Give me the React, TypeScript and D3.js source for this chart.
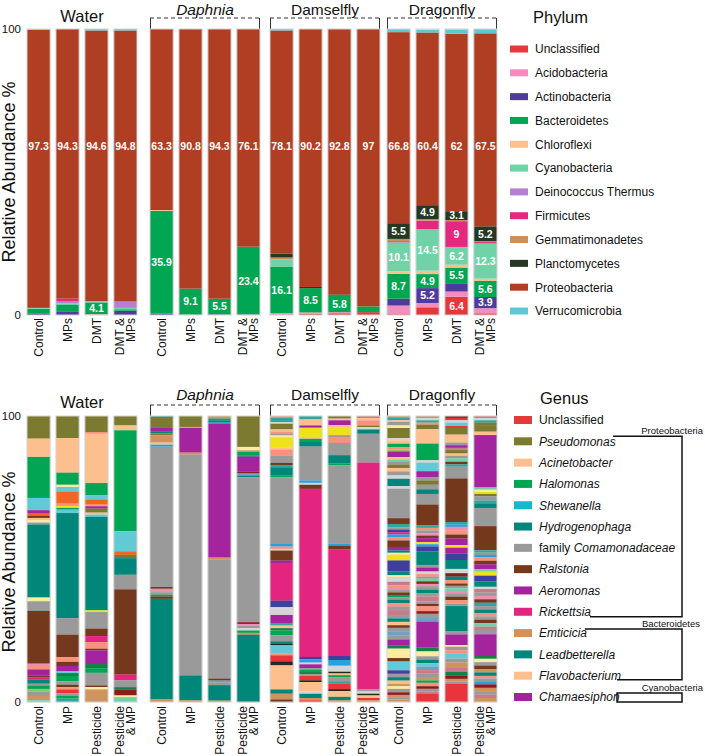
import React from "react";
import * as d3 from "d3";

// ---------- shared categories ----------
const groups = ["Water", "Daphnia", "Damselfly", "Dragonfly"];
const italicGroups = ["Daphnia"];
const topConditionLines = [["Control"], ["MPs"], ["DMT"], ["DMT &", "MPs"]];
const bottomConditionLines = [["Control"], ["MP"], ["Pesticide"], ["Pesticide", "& MP"]];

// ---------- Phylum panel (bars: Water C,MPs,DMT,DMT&MPs | Daphnia ... | Damselfly ... | Dragonfly ...) ----------
const phyla = [
  "Unclassified", "Acidobacteria", "Actinobacteria", "Bacteroidetes", "Chloroflexi", "Cyanobacteria",
  "Deinococcus Thermus", "Firmicutes", "Gemmatimonadetes", "Planctomycetes", "Proteobacteria", "Verrucomicrobia",
];
const phylumColors = [
  "#e8363b", "#f28dbd", "#4f3b9e", "#00a651", "#fdc08e", "#6fd3a7",
  "#b57fd3", "#e5287f", "#c8915e", "#243824", "#b03e22", "#5ccad6",
];
const unclassifiedP = [0, 0, 0.15, 0, 0, 0, 0, 0, 0, 0.4, 0.6, 1.0, 0.3, 2.7, 6.4, 0.6];
const acidobacteria = [0, 0, 0.15, 0, 0, 0, 0, 0, 0.7, 0.5, 0.4, 0, 3.0, 1.5, 1.8, 1.8];
const actinobacteria = [0.4, 1.3, 0, 1.5, 0.5, 0.1, 0.2, 0.2, 0, 0, 0, 0, 2.4, 5.2, 2.9, 3.9];
const bacteroidetes = [1.8, 2.4, 4.1, 0.5, 35.9, 9.1, 5.5, 23.4, 16.1, 8.5, 5.8, 2.0, 8.7, 4.9, 5.5, 5.6];
const chloroflexi = [0, 0, 0, 0, 0.3, 0, 0, 0, 0, 0, 0, 0, 0.9, 1.2, 1.0, 0.8];
const cyanobacteria = [0.3, 0.4, 0.5, 0.5, 0, 0, 0, 0, 2.6, 0, 0, 0, 10.1, 14.5, 6.2, 12.3];
const deinococcus = [0, 0.8, 0, 2.2, 0, 0, 0, 0, 0, 0, 0, 0, 0, 0, 0, 0];
const firmicutes = [0, 0.8, 0, 0, 0, 0, 0, 0, 0, 0, 0, 0, 0.4, 3.0, 9, 0.5];
const gemmatimonadetes = [0, 0, 0, 0, 0, 0, 0, 0, 0.7, 0, 0, 0, 0.8, 0.5, 0.4, 0.3];
const planctomycetes = [0, 0, 0, 0, 0, 0, 0, 0.3, 1.3, 0.4, 0.4, 0, 5.5, 4.9, 3.1, 5.2];
const proteobacteria = [97.3, 94.3, 94.6, 94.8, 63.3, 90.8, 94.3, 76.1, 78.1, 90.2, 92.8, 97, 66.8, 60.4, 62, 67.5];
const verrucomicrobia = [0.2, 0, 0.5, 0.5, 0, 0, 0, 0, 0.5, 0, 0, 0, 1.1, 1.0, 1.6, 1.5];
const phylumSeries = [
  unclassifiedP, acidobacteria, actinobacteria, bacteroidetes, chloroflexi, cyanobacteria,
  deinococcus, firmicutes, gemmatimonadetes, planctomycetes, proteobacteria, verrucomicrobia,
];
const labelThreshold = 3.05;
const proteoLabelAt = 59;

// ---------- Genus panel ----------
const genera = [
  "Unclassified", "Pseudomonas", "Acinetobacter", "Halomonas", "Shewanella", "Hydrogenophaga",
  "family Comamonadaceae", "Ralstonia", "Aeromonas", "Rickettsia", "Emticicia", "Leadbetterella",
  "Flavobacterium", "Chamaesiphon",
];
const genusLegendColors = [
  "#e5393a", "#7b7a2e", "#fdbf8e", "#00a651", "#14bccb", "#00877a",
  "#9a9a9a", "#74391d", "#a4229e", "#e4257f", "#d0935d", "#00877a",
  "#fdbf8e", "#a4229e",
];
const genusPalette: Record<string, string> = {
  UN: "#e8343a", PS: "#7c7a30", AC: "#fdbf8e", HA: "#00a651", LC: "#62cad7", HY: "#00877a",
  CO: "#9a9a9a", RA: "#74391d", AE: "#a5239e", RI: "#e4257f", EM: "#cf945e", LE: "#00877a",
  FL: "#fdbf8e", OR: "#f26522", SA: "#f7937c", YE: "#ede21b", NV: "#3e409c", LG: "#d5d5d5",
  LY: "#fbec9f", BL: "#24a2dc", DR: "#8b1c1c", DK: "#24291f", MI: "#6fd1a5", TL: "#2ea79f",
  GD: "#16804a", PK: "#f08db5", RO: "#c87b8c", BG: "#6f9fc7", LN: "#8cc863",
};
// segments listed from the top of each bar downward: [genus code, %]
type Seg = [string, number];
const waterControl: Seg[] = [["PS", 7.9], ["AC", 6.4], ["HA", 14.3], ["LC", 4.3], ["AE", 1.2], ["OR", 0.8], ["RA", 0.7], ["AC", 0.8], ["LY", 0.8], ["CO", 0.7], ["HY", 25.5], ["LY", 1.3], ["CO", 3.4], ["RA", 18.4], ["PK", 0.8], ["SA", 1.2], ["AE", 2.1], ["RA", 0.6], ["RI", 0.9], ["HY", 1.4], ["CO", 0.6], ["HA", 1.2], ["LN", 0.9], ["CO", 1.6], ["EM", 1.5], ["MI", 0.6]];
const waterMP: Seg[] = [["PS", 7.7], ["AC", 12.1], ["HA", 4.2], ["LY", 0.8], ["LC", 1.7], ["OR", 4.1], ["SA", 0.8], ["YE", 0.7], ["HA", 0.6], ["LC", 1.2], ["HY", 36.7], ["CO", 5.8], ["RA", 7.8], ["SA", 1.7], ["RA", 1.4], ["AE", 1.9], ["LC", 0.6], ["GD", 1.0], ["HA", 1.9], ["CO", 1.2], ["RA", 0.8], ["SA", 0.8], ["UN", 1.3], ["CO", 1.0], ["HA", 0.9], ["TL", 1.2]];
const waterPesticide: Seg[] = [["PS", 5.6], ["SA", 0.6], ["AC", 17.2], ["HA", 4.3], ["LC", 1.4], ["OR", 1.6], ["SA", 0.8], ["AE", 0.8], ["PS", 1.4], ["AC", 0.7], ["LC", 0.8], ["HY", 32.6], ["YE", 0.6], ["CO", 5.8], ["RA", 2.6], ["RI", 2.1], ["SA", 2.3], ["RA", 0.6], ["AE", 4.7], ["GD", 1.5], ["HA", 1.6], ["CO", 4.4], ["RA", 0.6], ["LY", 0.8], ["EM", 4.4]];
const waterPestMP: Seg[] = [["PS", 3.3], ["AC", 1.7], ["HA", 35.3], ["LC", 7.0], ["OR", 1.2], ["PS", 1.2], ["HY", 5.8], ["CO", 5.1], ["RA", 29.8], ["RI", 2.0], ["CO", 2.4], ["GD", 0.8], ["DR", 2.1], ["LY", 0.6], ["MI", 1.7]];
const daphniaControl: Seg[] = [["TL", 0.3], ["PS", 3.8], ["AE", 1.2], ["HY", 0.8], ["PS", 0.6], ["EM", 2.6], ["AC", 0.7], ["BL", 0.7], ["CO", 49.1], ["RA", 0.6], ["PK", 1.2], ["CO", 0.9], ["HA", 0.6], ["RA", 0.8], ["LE", 35.2], ["EM", 0.9]];
const daphniaMP: Seg[] = [["PS", 3.8], ["SA", 0.4], ["AE", 8.6], ["EM", 0.7], ["CO", 77.2], ["LE", 8.7], ["EM", 0.6]];
const daphniaPesticide: Seg[] = [["EM", 0.9], ["HA", 0.6], ["HY", 0.8], ["BL", 0.5], ["AE", 46.7], ["EM", 0.6], ["CO", 41.7], ["RA", 0.7], ["BG", 0.7], ["CO", 0.9], ["LE", 5.4], ["EM", 0.5]];
const daphniaPestMP: Seg[] = [["PS", 10.8], ["LY", 1.2], ["EM", 0.6], ["HA", 1.2], ["HY", 0.4], ["AE", 5.2], ["DR", 0.7], ["BG", 0.7], ["HY", 0.6], ["CO", 50.7], ["DR", 0.6], ["PK", 0.6], ["CO", 0.9], ["LG", 0.8], ["HA", 0.8], ["EM", 0.7], ["LE", 23.5]];
const damselControl: Seg[] = [["SA", 0.6], ["TL", 1.5], ["LG", 0.6], ["PS", 2.0], ["AC", 0.7], ["SA", 0.8], ["CO", 0.6], ["LY", 0.6], ["YE", 3.5], ["AC", 0.8], ["SA", 2.1], ["CO", 2.6], ["RA", 0.7], ["TL", 0.8], ["HY", 2.9], ["HA", 0.6], ["CO", 23.3], ["BL", 0.9], ["SA", 0.8], ["LG", 0.6], ["RA", 3.5], ["AE", 0.8], ["RI", 13.2], ["NV", 2.3], ["LG", 2.7], ["AE", 2.8], ["TL", 0.9], ["AC", 0.9], ["GD", 0.8], ["HA", 1.7], ["CO", 2.1], ["HY", 0.8], ["DK", 0.6], ["LC", 2.9], ["SA", 0.6], ["UN", 2.1], ["DK", 1.4], ["FL", 8.4], ["LE", 1.5], ["EM", 2.0], ["RA", 0.9]];
const damselMP: Seg[] = [["TL", 1.2], ["AC", 2.1], ["AE", 0.8], ["YE", 3.3], ["AC", 0.6], ["HA", 0.8], ["HY", 1.9], ["CO", 11.9], ["BL", 0.8], ["LG", 0.7], ["RA", 1.4], ["RI", 58.9], ["NV", 0.8], ["BL", 1.2], ["LG", 0.6], ["AE", 1.3], ["CO", 0.6], ["HA", 0.8], ["GD", 0.8], ["CO", 0.6], ["UN", 1.5], ["DK", 0.6], ["FL", 3.3], ["LG", 0.8], ["LE", 1.5], ["EM", 0.8], ["UN", 0.6]];
const damselPesticide: Seg[] = [["PS", 0.9], ["AC", 0.6], ["AE", 1.7], ["AC", 0.9], ["YE", 2.6], ["CO", 0.6], ["SA", 2.1], ["CO", 4.3], ["HY", 2.9], ["HA", 0.6], ["CO", 27.4], ["BL", 0.8], ["RA", 1.2], ["RI", 37.4], ["NV", 1.4], ["BL", 2.0], ["LG", 2.1], ["DK", 0.6], ["AC", 0.6], ["HA", 0.8], ["CO", 1.3], ["TL", 0.8], ["UN", 2.0], ["DK", 0.7], ["FL", 2.0], ["LE", 1.2], ["EM", 0.6]];
const damselPestMP: Seg[] = [["RO", 0.7], ["AC", 0.8], ["SA", 1.8], ["PS", 0.6], ["LG", 0.8], ["HY", 1.5], ["CO", 10.1], ["RI", 79.3], ["CO", 0.7], ["LG", 0.8], ["DK", 0.6], ["FL", 0.9], ["UN", 0.8], ["EM", 0.6]];
const dragonControl: Seg[] = [["EM", 0.7], ["TL", 0.8], ["AC", 0.6], ["CO", 1.2], ["LY", 0.9], ["PS", 3.5], ["LG", 0.8], ["AC", 1.2], ["HA", 1.2], ["SA", 0.8], ["LN", 0.7], ["AE", 2.0], ["AC", 0.8], ["MI", 0.9], ["CO", 0.9], ["PS", 1.2], ["AC", 1.2], ["CO", 1.4], ["LG", 1.2], ["HY", 2.6], ["LG", 0.9], ["CO", 10.3], ["RA", 2.0], ["TL", 1.2], ["CO", 0.8], ["NV", 0.9], ["RI", 0.8], ["BL", 0.9], ["SA", 1.2], ["RA", 2.3], ["AE", 1.2], ["HY", 0.8], ["LY", 0.7], ["YE", 2.0], ["NV", 3.8], ["HY", 1.4], ["LY", 0.6], ["LG", 1.7], ["RO", 1.2], ["SA", 0.9], ["PK", 0.8], ["CO", 0.8], ["RA", 0.9], ["HA", 0.9], ["CO", 0.8], ["HY", 1.2], ["SA", 1.2], ["CO", 1.2], ["RO", 1.7], ["CO", 1.2], ["HY", 1.2], ["AC", 1.2], ["RA", 0.9], ["CO", 1.2], ["BG", 1.4], ["CO", 1.5], ["AE", 2.0], ["GD", 1.2], ["LY", 3.3], ["RA", 1.2], ["LC", 3.1], ["NV", 1.2], ["CO", 1.2], ["HY", 1.2], ["AC", 1.2], ["EM", 0.8], ["LY", 0.9], ["CO", 1.2], ["DR", 0.9], ["EM", 0.8], ["CO", 0.8], ["EM", 0.9]];
const dragonMP: Seg[] = [["EM", 0.7], ["LG", 0.8], ["TL", 0.8], ["SA", 0.7], ["PS", 1.6], ["AC", 5.0], ["HA", 5.8], ["LG", 0.8], ["LC", 3.0], ["AE", 2.0], ["CO", 1.2], ["PS", 1.5], ["CO", 1.6], ["HY", 1.6], ["CO", 3.7], ["RA", 7.2], ["TL", 0.9], ["SA", 0.9], ["CO", 1.0], ["PK", 0.8], ["RA", 0.9], ["AE", 1.4], ["YE", 0.7], ["BL", 0.8], ["NV", 1.7], ["HY", 4.7], ["CO", 0.9], ["AE", 1.4], ["LG", 0.9], ["SA", 0.9], ["CO", 0.7], ["MI", 0.9], ["RA", 0.9], ["PK", 0.8], ["CO", 1.2], ["HY", 1.2], ["CO", 1.2], ["RO", 1.7], ["CO", 0.9], ["RA", 0.8], ["SA", 1.7], ["DR", 0.9], ["CO", 1.4], ["BG", 1.4], ["AE", 8.9], ["GD", 1.4], ["LY", 1.7], ["CO", 1.2], ["HY", 1.2], ["LC", 1.2], ["BG", 1.2], ["RO", 1.2], ["CO", 1.2], ["EM", 1.2], ["HA", 0.8], ["SA", 1.2], ["DR", 0.9], ["CO", 0.9], ["RO", 0.8], ["UN", 2.9]];
const dragonPesticide: Seg[] = [["RA", 0.7], ["UN", 0.8], ["LG", 0.8], ["LC", 1.2], ["UN", 0.7], ["PS", 2.3], ["AC", 2.8], ["CO", 0.9], ["AE", 0.9], ["RO", 0.8], ["PS", 1.2], ["AC", 0.8], ["CO", 0.9], ["MI", 1.2], ["RA", 0.9], ["TL", 0.8], ["CO", 1.5], ["CO", 2.6], ["RA", 15.2], ["TL", 0.9], ["BL", 0.8], ["PK", 1.2], ["SA", 1.5], ["RA", 1.4], ["AE", 2.3], ["YE", 0.9], ["AE", 2.0], ["NV", 2.3], ["HY", 3.1], ["LG", 1.5], ["DR", 1.2], ["HY", 1.2], ["SA", 1.2], ["RA", 0.8], ["CO", 0.9], ["MI", 0.9], ["PK", 0.8], ["CO", 1.2], ["RA", 1.2], ["SA", 1.2], ["CO", 0.9], ["HY", 8.7], ["CO", 1.2], ["AE", 3.7], ["LY", 0.6], ["CO", 1.2], ["SA", 1.2], ["LC", 1.7], ["CO", 1.4], ["EM", 1.9], ["RO", 1.4], ["GD", 1.2], ["DR", 1.2], ["EM", 0.9], ["CO", 0.8], ["UN", 6.4]];
const dragonPestMP: Seg[] = [["RO", 0.7], ["LG", 0.8], ["TL", 0.8], ["PS", 0.9], ["PS", 2.3], ["AC", 1.2], ["AE", 18.4], ["MI", 0.8], ["LY", 0.8], ["YE", 0.7], ["PS", 0.8], ["CO", 1.5], ["TL", 1.2], ["HY", 1.4], ["CO", 6.4], ["RA", 8.5], ["TL", 0.8], ["CO", 0.8], ["BL", 0.9], ["SA", 1.2], ["RA", 1.2], ["AE", 1.7], ["MI", 0.9], ["YE", 1.4], ["NV", 2.0], ["HY", 1.9], ["LG", 0.8], ["RO", 1.2], ["CO", 1.2], ["PK", 1.2], ["RA", 1.2], ["TL", 1.2], ["CO", 1.2], ["HY", 1.2], ["SA", 1.2], ["CO", 1.2], ["RA", 1.2], ["MI", 1.2], ["RO", 1.2], ["CO", 1.5], ["AE", 7.6], ["GD", 1.0], ["LY", 1.2], ["CO", 1.2], ["RA", 1.2], ["EM", 1.2], ["HY", 1.2], ["SA", 0.9], ["CO", 1.2], ["BL", 0.9], ["DR", 1.2], ["EM", 1.2], ["CO", 1.2], ["RO", 1.2], ["EM", 1.4]];
const genusBars: Seg[][] = [
  waterControl, waterMP, waterPesticide, waterPestMP,
  daphniaControl, daphniaMP, daphniaPesticide, daphniaPestMP,
  damselControl, damselMP, damselPesticide, damselPestMP,
  dragonControl, dragonMP, dragonPesticide, dragonPestMP,
];

// ---------- layout ----------
const W = 705, H = 756;
const FONT = "'Liberation Sans', Arial, Helvetica, sans-serif";
const groupStarts = [27, 150, 270, 387];
const groupWidth = 110;
const band = d3.scaleBand<number>().domain([0, 1, 2, 3]).range([0, groupWidth]).paddingInner(0.2);
const barX = (i: number) => groupStarts[Math.floor(i / 4)] + (band(i % 4) as number);
const bw = band.bandwidth();
const yTop = d3.scaleLinear().domain([0, 100]).range([315, 29]);
const yBot = d3.scaleLinear().domain([0, 100]).range([702, 416]);

function XLabels({ lines, y }: { lines: string[][]; y: number }) {
  return (
    <g>
      {d3.range(16).map((i) => {
        const l = lines[i % 4];
        const cx = barX(i) + bw / 2;
        return (
          <text key={i} transform={`translate(${cx},${y}) rotate(-90)`} textAnchor="end" fontSize={12} fontFamily={FONT} fill="#111">
            {l.length === 1 ? (
              <tspan x={0} dy="0.35em">{l[0]}</tspan>
            ) : (
              <>
                <tspan x={0} dy="-0.12em">{l[0]}</tspan>
                <tspan x={0} dy="0.92em">{l[1]}</tspan>
              </>
            )}
          </text>
        );
      })}
    </g>
  );
}

function GroupHeaders({ titleY, bracketY, bracketBottom, waterY }: { titleY: number; bracketY: number; bracketBottom: number; waterY: number }) {
  return (
    <g fontFamily={FONT}>
      {groups.map((g, gi) => {
        const x0 = groupStarts[gi];
        const x1 = x0 + groupWidth;
        const cx = (x0 + x1) / 2;
        if (gi === 0) {
          return (
            <text key={g} x={cx} y={waterY} textAnchor="middle" fontSize={16.5} fill="#111">{g}</text>
          );
        }
        return (
          <g key={g}>
            <text x={cx} y={titleY} textAnchor="middle" fontSize={15.5} fill="#111" fontStyle={italicGroups.includes(g) ? "italic" : "normal"}>{g}</text>
            <line x1={x0} x2={x1} y1={bracketY} y2={bracketY} stroke="#333" strokeWidth={1} strokeDasharray="4,3" />
            <line x1={x0 + 0.5} x2={x0 + 0.5} y1={bracketY} y2={bracketBottom} stroke="#333" strokeWidth={1} />
            <line x1={x1 - 0.5} x2={x1 - 0.5} y1={bracketY} y2={bracketBottom} stroke="#333" strokeWidth={1} />
          </g>
        );
      })}
    </g>
  );
}

function YAxis({ y, labelY }: { y: d3.ScaleLinear<number, number>; labelY: number }) {
  return (
    <g fontFamily={FONT} fill="#111">
      {[0, 100].map((t) => (
        <text key={t} x={21} y={y(t)} dy="0.35em" textAnchor="end" fontSize={11.5}>{t}</text>
      ))}
      <text transform={`translate(15,${labelY}) rotate(-90)`} textAnchor="middle" fontSize={18}>Relative Abundance %</text>
    </g>
  );
}

function PhylumPanel() {
  const stack = d3.stack<number>().keys(phyla.map((_, i) => String(i))).value((d, k) => phylumSeries[+k][d]);
  const series = stack(d3.range(16));
  return (
    <g>
      {series.map((s, si) => (
        <g key={si} fill={phylumColors[si]}>
          {s.map((d, bi) => (
            <rect key={bi} x={barX(bi)} width={bw} y={yTop(d[1])} height={Math.max(0, yTop(d[0]) - yTop(d[1]))} />
          ))}
        </g>
      ))}
      {d3.range(16).map((bi) => (
        <rect key={bi} x={barX(bi)} width={bw} y={yTop(100)} height={yTop(0) - yTop(100)} fill="none" stroke="#d4d4d4" strokeWidth={1} />
      ))}
      <g fontFamily={FONT} fontWeight="bold" fontSize={10.5} fill="#fff" textAnchor="middle">
        {series.map((s, si) =>
          s.map((d, bi) => {
            const v = phylumSeries[si][bi];
            if (v < labelThreshold) return null;
            const cy = phyla[si] === "Proteobacteria" ? yTop(proteoLabelAt) : yTop((d[0] + d[1]) / 2);
            return (
              <text key={`${si}-${bi}`} x={barX(bi) + bw / 2} y={cy} dy="0.36em">{String(v)}</text>
            );
          })
        )}
      </g>
    </g>
  );
}

function GenusPanel() {
  return (
    <g>
      {genusBars.map((segs, bi) => {
        const total = d3.sum(segs, (s) => s[1]);
        const ends = d3.cumsum(segs.map((s) => s[1]));
        return (
          <g key={bi}>
            {segs.map((s, si) => {
              const startPct = 100 - ((ends[si] - s[1]) / total) * 100;
              const endPct = 100 - (ends[si] / total) * 100;
              return (
                <rect key={si} x={barX(bi)} width={bw} y={yBot(startPct)} height={yBot(endPct) - yBot(startPct) + 0.15} fill={genusPalette[s[0]]} />
              );
            })}
            <rect x={barX(bi)} width={bw} y={yBot(100)} height={yBot(0) - yBot(100)} fill="none" stroke="#d4d4d4" strokeWidth={1} />
          </g>
        );
      })}
    </g>
  );
}

function PhylumLegend() {
  const ly = d3.scalePoint<number>().domain(d3.range(phyla.length)).range([49, 311]);
  return (
    <g fontFamily={FONT} fill="#111">
      <text x={533} y={23} fontSize={16.5}>Phylum</text>
      {phyla.map((p, i) => (
        <g key={p}>
          <rect x={510} y={(ly(i) as number) - 3.5} width={18} height={7} fill={phylumColors[i]} />
          <text x={535} y={ly(i) as number} dy="0.36em" fontSize={12}>{p}</text>
        </g>
      ))}
    </g>
  );
}

function GenusLegend() {
  const ly = d3.scalePoint<number>().domain(d3.range(genera.length)).range([420, 697]);
  const yOf = (i: number) => ly(i) as number;
  return (
    <g fontFamily={FONT} fill="#111">
      <text x={540} y={404} fontSize={16.5}>Genus</text>
      {genera.map((g, i) => (
        <g key={g}>
          <rect x={514} y={yOf(i) - 4} width={18} height={8} fill={genusLegendColors[i]} />
          <text x={539} y={yOf(i)} dy="0.36em" fontSize={12}>
            {g === "Unclassified" ? (
              g
            ) : g.startsWith("family ") ? (
              <>
                <tspan>family </tspan>
                <tspan fontStyle="italic">{g.slice(7)}</tspan>
              </>
            ) : (
              <tspan fontStyle="italic">{g}</tspan>
            )}
          </text>
        </g>
      ))}
      <g fill="none" stroke="#111" strokeWidth={1.5}>
        <path d={`M613,${yOf(1) - 5}H682V${yOf(9) + 5}H590`} />
        <path d={`M585,${yOf(10) - 4}H682V${yOf(12) + 4}H617`} />
        <path d={`M617,${yOf(13) - 4}H682V${yOf(13) + 5}H617Z`} />
      </g>
      <g fontSize={9.5} textAnchor="end">
        <text x={703} y={yOf(1) - 7}>Proteobacteria</text>
        <text x={700} y={yOf(10) - 6}>Bacteroidetes</text>
        <text x={703} y={yOf(13) - 6}>Cyanobacteria</text>
      </g>
    </g>
  );
}

export default function App() {
  return (
    <svg width={W} height={H} viewBox={`0 0 ${W} ${H}`} style={{ position: "absolute", left: 0, top: 0, background: "#fff" }}>
      <rect width={W} height={H} fill="#fff" />
      <GroupHeaders titleY={14.5} bracketY={18} bracketBottom={29} waterY={22} />
      <YAxis y={yTop} labelY={172} />
      <PhylumPanel />
      <XLabels lines={topConditionLines} y={318} />
      <PhylumLegend />

      <GroupHeaders titleY={400} bracketY={405} bracketBottom={416} waterY={408} />
      <YAxis y={yBot} labelY={562} />
      <GenusPanel />
      <XLabels lines={bottomConditionLines} y={706} />
      <GenusLegend />
    </svg>
  );
}
